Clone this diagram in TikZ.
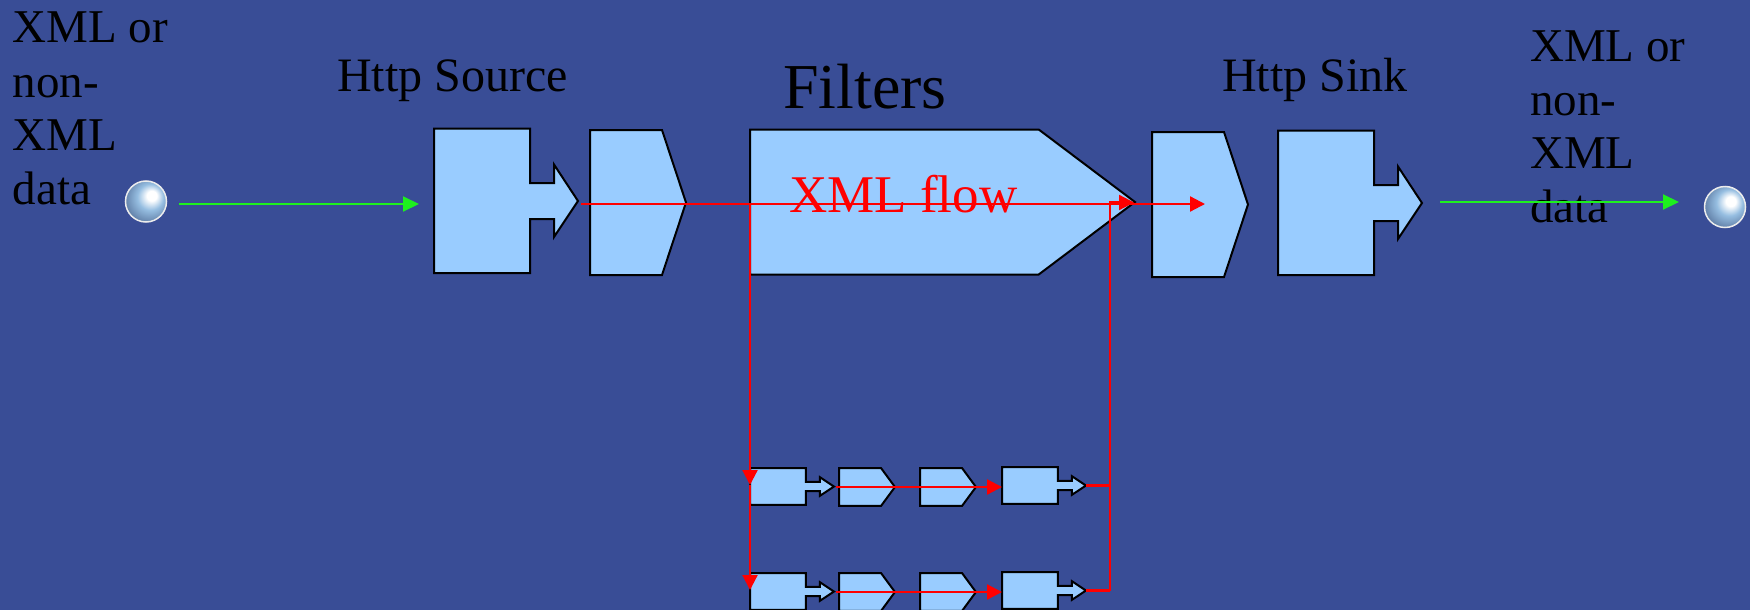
\documentclass[tikz,border=0pt]{standalone}
\usepackage{fontspec}
\setmainfont{Liberation Serif}
\usetikzlibrary{arrows.meta}
\definecolor{slidebg}{RGB}{57,77,150}
\definecolor{blockblue}{RGB}{153,204,255}
\definecolor{flowgreen}{RGB}{30,240,30}
\definecolor{spheremid}{RGB}{150,190,225}
\definecolor{sphereedge}{RGB}{95,125,165}
\definecolor{spheredark}{RGB}{60,85,125}
\pgfdeclareradialshading{sphereshade}{\pgfpoint{8bp}{8bp}}{
	color(0bp)=(white);
	color(6bp)=(white);
	color(16bp)=(spheremid);
	color(30bp)=(sphereedge);
	color(44bp)=(spheredark);
	color(50bp)=(spheredark)}
\tikzset{
	blockline/.style={draw=black,fill=blockblue,line width=2pt,line join=miter},
	redflow/.style={red,line width=2.2pt},
	redtip/.style={redflow,-{Triangle[length=15pt,width=15pt]}},
	greenflow/.style={flowgreen,line width=2pt,-{Triangle[length=16pt,width=15pt]}},
	sphereball/.style={circle,minimum size=41pt,inner sep=0pt,draw=white!85!gray,line width=1.5pt,shading=sphereshade},
	bodytext/.style={anchor=base west,inner sep=0pt,font=\fontsize{48}{53.5}\selectfont},
	sidetext/.style={bodytext,font=\fontsize{47}{53.5}\selectfont},
	srcblock/.pic={
		\draw[blockline] (0,0) -- (96,0) -- (96,54.5) -- (120,54.5) -- (120,36) -- (144,72.5) -- (120,108.5) -- (120,90.5) -- (96,90.5) -- (96,144.5) -- (0,144.5) -- cycle;
	},
	tagblock/.pic={
		\draw[blockline] (0,0) -- (72,0) -- (96,72.5) -- (72,145) -- (0,145) -- cycle;
	}
}
\begin{document}
\begin{tikzpicture}[x=1pt,y=-1pt]
	\clip (0,0) rectangle (1750,610);
	\fill[slidebg] (0,0) rectangle (1750,610);
	% labels
	\node[sidetext] (leftone) at (12.5,43) {XML or};
	\node[sidetext] (lefttwo) at (12.5,97) {non-};
	\node[sidetext] (leftthree) at (12.5,150) {XML};
	\node[sidetext] (leftfour) at (12.5,204) {data};
	\node[sidetext] (rightone) at (1530,62) {XML or};
	\node[sidetext] (righttwo) at (1530,115) {non-};
	\node[sidetext] (rightthree) at (1530,168) {XML};
	\node[sidetext] (rightfour) at (1530,222) {data};
	\node[bodytext] (srclabel) at (337,92) {Http Source};
	\node[bodytext] (sinklabel) at (1222,92) {Http Sink};
	\node[bodytext,font=\fontsize{64}{70}\selectfont] (filterlabel) at (783,108) {Filters};
	% big blocks
	\pic at (434,128.5) {srcblock};
	\pic at (590,130) {tagblock};
	\pic[xscale=4.01] at (750,129.5) {tagblock};
	\pic at (1152,132) {tagblock};
	\pic at (1278,130.5) {srcblock};
	% small blocks
	\foreach \rowy/\rowname in {0/a,105/b}{
		\pic[xscale=.583,yscale=.256] at (750,468+\rowy) {srcblock};
		\pic[xscale=.583,yscale=.262] at (839,468+\rowy) {tagblock};
		\pic[xscale=.583,yscale=.262] at (920,468+\rowy) {tagblock};
		\pic[xscale=.583,yscale=.256] at (1002,467+\rowy) {srcblock};
		\coordinate (rowstart\rowname) at (836,487+\rowy);
		\coordinate (rowend\rowname) at (1002,487+\rowy);
		\coordinate (backstart\rowname) at (1086,485.5+\rowy);
		\coordinate (backend\rowname) at (1110,485.5+\rowy);
		\coordinate (downend\rowname) at (750,485+\rowy);
	}
	\node[bodytext,red,font=\fontsize{53}{60}\selectfont] (flowlabel) at (789,212) {XML flow};
	% spheres
	\node[sphereball] (insphere) at (146,201.5) {};
	\node[sphereball] (outsphere) at (1725,207) {};
	% green arrows
	\coordinate (ingreen) at (179,204);
	\coordinate (insrc) at (419,204);
	\coordinate (outgreen) at (1440,202);
	\coordinate (outend) at (1679,202);
	\draw[greenflow] (ingreen) -- (insrc);
	\draw[greenflow] (outgreen) -- (outend);
	% red arrows
	\coordinate (flowstart) at (581,204);
	\coordinate (flowend) at (1205,204);
	\coordinate (splittop) at (750,203);
	\coordinate (jointop) at (1110,202.5);
	\coordinate (joinend) at (1134,202.5);
	\draw[redtip] (flowstart) -- (flowend);
	\draw[redtip] (splittop) -- (downenda);
	\draw[redtip] (downenda) -- (downendb);
	\foreach \rowname in {a,b}{
		\draw[redtip] (rowstart\rowname) -- (rowend\rowname);
		\draw[redflow] (backstart\rowname) -- (backend\rowname);
	}
	\draw[redflow] (backendb) -- (backenda);
	\draw[redtip] (backenda) -- (jointop) -- (joinend);
\end{tikzpicture}
\end{document}
